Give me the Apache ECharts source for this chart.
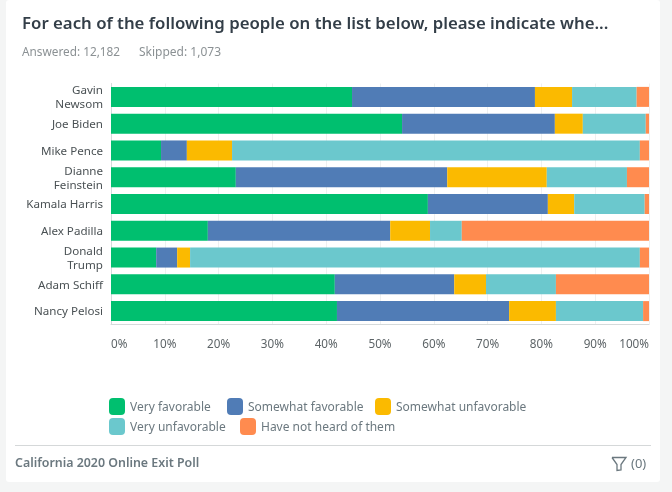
<!DOCTYPE html>
<html><head><meta charset="utf-8">
<style>html,body{margin:0;padding:0;background:#f4f5f5}#c{width:672px;height:492px}</style>
<script src="https://cdn.jsdelivr.net/npm/echarts@6/dist/echarts.min.js"></script>
</head><body><div id="c"></div>
<script>
const categories = ["Gavin\nNewsom","Joe Biden","Mike Pence","Dianne\nFeinstein","Kamala Harris","Alex Padilla","Donald\nTrump","Adam Schiff","Nancy Pelosi"];
const veryFavorable = [44.8,54.1,9.3,23.2,58.9,18.0,8.4,41.6,42.0];
const somewhatFavorable = [34.0,28.4,4.8,39.3,22.3,33.9,3.9,22.2,32.0];
const somewhatUnfavorable = [6.9,5.2,8.4,18.5,4.9,7.4,2.4,5.9,8.7];
const veryUnfavorable = [12.0,11.7,75.8,14.9,13.1,5.9,83.6,13.0,16.2];
const notHeard = [2.3,0.6,1.7,4.1,0.8,34.8,1.7,17.3,1.1];
const seriesNames = ["Very favorable","Somewhat favorable","Somewhat unfavorable","Very unfavorable","Have not heard of them"];
const seriesValues = [veryFavorable,somewhatFavorable,somewhatUnfavorable,veryUnfavorable,notHeard];
const colors = ["#00bf6f","#507cb6","#fbba00","#6bc8cd","#ff8b4f"];
const legendLeft = [109,227,375,109,240];
const legendTop = [398,398,398,418,418];
const tickStep = 10;
const F = '"Noto Sans", sans-serif';
const chart = echarts.init(document.getElementById('c'), null, {renderer:'canvas'});
chart.setOption({
  animation:false,
  backgroundColor:'#f4f5f5',
  color:colors,
  grid:{left:111,right:23,top:83.5,height:241,containLabel:false},
  xAxis:{type:'value',min:0,max:100,interval:tickStep,
    axisLine:{show:true,lineStyle:{color:'#d5dadb'}},axisTick:{show:false},
    splitLine:{show:true,lineStyle:{color:'#eef0f0'}},
    axisLabel:{formatter:'{value}%',color:'#5d6467',fontFamily:F,fontSize:11.7,margin:14,alignMinLabel:'left',alignMaxLabel:'right'}},
  yAxis:{type:'category',inverse:true,data:categories,
    axisLine:{show:true,lineStyle:{color:'#d5dadb'}},axisTick:{show:false},
    axisLabel:{margin:8,align:'right',
      formatter:v=>v.split('\n').map(s=>'{a|'+s+'}').join('\n'),
      rich:{a:{color:'#4a5154',fontFamily:F,fontSize:11.6,lineHeight:14,align:'right',padding:[2,0,0,0]}}}},
  legend:seriesNames.map((n,i)=>({left:legendLeft[i],top:legendTop[i],itemWidth:16,itemHeight:17,icon:'roundRect',
    data:[n],selectedMode:false,padding:0,
    formatter:'{a|{name}}',
    textStyle:{rich:{a:{color:'#6b787f',fontFamily:F,fontSize:12,padding:[3,0,0,0]}}}})),
  series:seriesNames.map((n,i)=>({name:n,type:'bar',stack:'t',barWidth:20,data:seriesValues[i]})),
  graphic:[
    {type:'rect',z:-10,silent:true,shape:{x:6,y:0,width:654,height:482,r:3},style:{fill:'#fff'}},
    {type:'text',left:22,top:16,style:{text:'For each of the following people on the list below, please indicate whe...',font:'600 16.8px '+F,fill:'#333e48'}},
    {type:'text',left:22,top:47,style:{text:'Answered: 12,182',font:'11.8px '+F,fill:'#8b9194'}},
    {type:'text',left:139,top:47,style:{text:'Skipped: 1,073',font:'12px '+F,fill:'#8b9194'}},
    {type:'line',shape:{x1:15,y1:445.5,x2:651,y2:445.5},style:{stroke:'#d5d8d9',lineWidth:1}},
    {type:'text',left:15,top:457,style:{text:'California 2020 Online Exit Poll',font:'600 12.4px '+F,fill:'#6b787f'}},
    {type:'polyline',shape:{points:[[612,457.5],[626,457.5],[621,464.5],[621,470],[617,470.5],[617,464.5],[612,457.5]]},style:{stroke:'#6b787f',fill:'none',lineWidth:1.3}},
    {type:'text',left:631,top:458,style:{text:'(0)',font:'13px '+F,fill:'#6b787f'}}
  ]
});
</script></body></html>
